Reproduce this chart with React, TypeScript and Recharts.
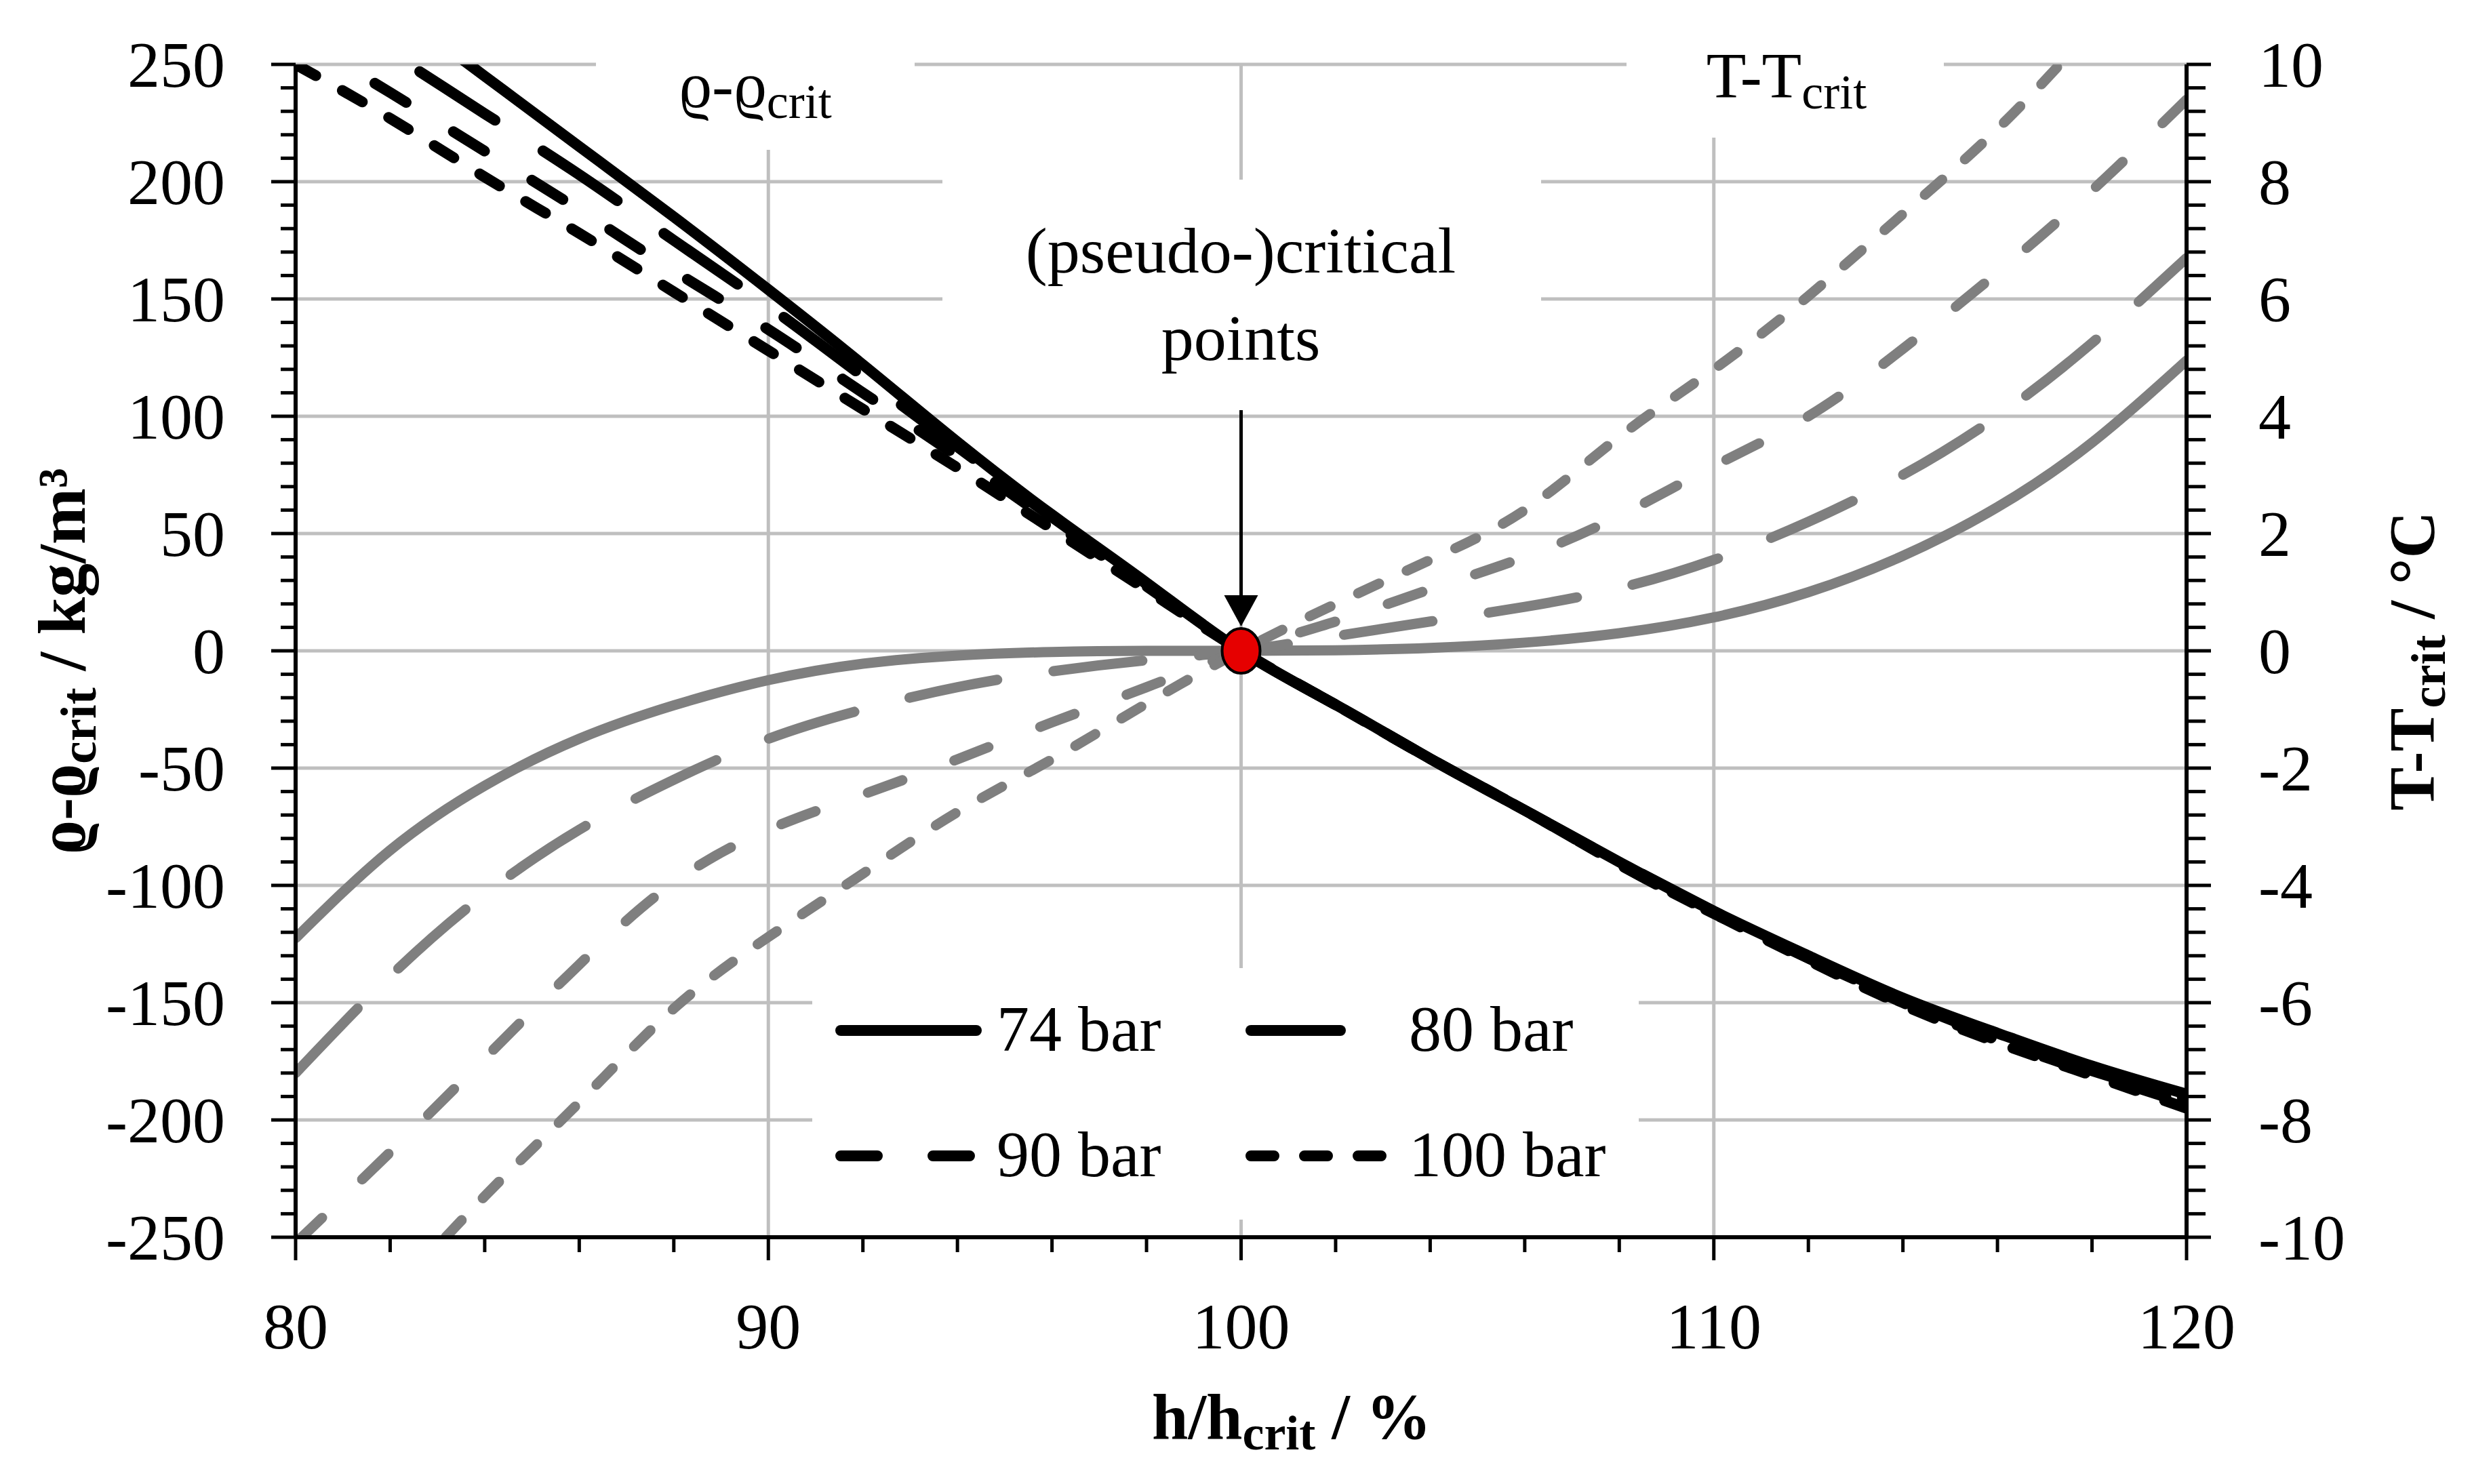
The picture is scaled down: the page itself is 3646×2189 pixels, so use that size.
import React from "react";
import {
    LineChart,
    Line,
    XAxis,
    YAxis,
    CartesianGrid,
    Legend,
    ReferenceDot,
    ReferenceLine,
} from "recharts";

// h/h_crit in %
const enthalpy = [80, 82, 84, 86, 88, 90, 92, 94, 96, 98, 100, 102, 104, 106, 108, 110, 112, 114, 116, 118, 120];

// rho - rho_crit in kg/m3 (left axis)
const rho74 = [305, 275, 245, 215, 185, 154, 122, 89, 58, 29, 0, -23, -46, -68, -90, -111, -130, -148, -163, -177, -189];
const rho80 = [280, 255, 229, 203, 175, 147, 117, 87, 57, 28.5, 0, -23, -46, -68, -90, -111, -131, -149, -165, -179, -191];
const rho90 = [262, 238, 213, 188, 162, 137, 110, 83, 55, 27.5, 0, -23, -46, -68, -91, -112, -131, -150, -166, -180, -193];
const rho100 = [250, 227, 202, 178, 153, 128, 103, 78, 52, 26, 0, -23, -46, -68, -91, -112, -132, -151, -167, -181, -195];

// T - T_crit in degC (right axis)
const t74 = [-4.9, -3.4, -2.3, -1.5, -0.93, -0.5, -0.22, -0.08, -0.02, 0, 0, 0.01, 0.05, 0.14, 0.3, 0.57, 1.0, 1.62, 2.45, 3.55, 4.95];
const t80 = [-7.2, -5.55, -4.15, -3.05, -2.2, -1.5, -1.0, -0.62, -0.35, -0.16, 0, 0.25, 0.5, 0.75, 1.07, 1.55, 2.2, 3.0, 4.0, 5.25, 6.7];
const t90 = [-10.1, -8.55, -6.95, -5.35, -3.95, -3.05, -2.45, -1.85, -1.22, -0.62, 0, 0.5, 1.05, 1.6, 2.3, 3.15, 4.0, 5.15, 6.45, 7.85, 9.4];
const t100 = [-12.6, -11.0, -9.3, -7.7, -6.1, -4.88, -3.8, -2.75, -1.85, -0.9, 0, 0.8, 1.55, 2.4, 3.65, 4.8, 6.05, 7.45, 8.9, 10.6, 12.4];

const pressures = ["74 bar", "80 bar", "90 bar", "100 bar"];

const xMajor = [80, 90, 100, 110, 120];
const rhoMajor = [-250, -200, -150, -100, -50, 0, 50, 100, 150, 200, 250];
const tMajor = [-10, -8, -6, -4, -2, 0, 2, 4, 6, 8, 10];
const rhoGrid = [-200, -150, -100, -50, 0, 50, 100, 150, 200, 250];
const hGrid = [90, 100, 110];

const data = enthalpy.map((h, i) => ({
    h,
    rho74: rho74[i],
    rho80: rho80[i],
    rho90: rho90[i],
    rho100: rho100[i],
    t74: t74[i],
    t80: t80[i],
    t90: t90[i],
    t100: t100[i],
}));

// minor ticks between the major ones
function subdivide(major: number[], parts: number) {
    const out: number[] = [];
    for (let i = 0; i < major.length - 1; i++) {
        for (let k = 0; k < parts; k++) out.push(major[i] + ((major[i + 1] - major[i]) * k) / parts);
    }
    out.push(major[major.length - 1]);
    return out;
}
const xTicks = subdivide(xMajor, 5);
const rhoTicks = subdivide(rhoMajor, 5);
const tTicks = subdivide(tMajor, 5);

const findMajor = (list: number[], v: number) => list.find((m) => Math.abs(m - v) < 1e-6);

const SERIF = "'Liberation Serif', 'Times New Roman', serif";
const FS = 96;
const GREY = "#7f7f7f";
const dashes = [undefined, "132 84", "54 82", "34 45"];

const LeftTick = (props: any) => {
    const { x, y, payload } = props;
    const m = findMajor(rhoMajor, payload.value);
    return (
        <g>
            <line x1={x - (m !== undefined ? 36 : 22)} x2={x} y1={y} y2={y} stroke="#000" strokeWidth={5} />
            {m !== undefined && (
                <text x={x - 104} y={y + 33} textAnchor="end" fontFamily={SERIF} fontSize={FS} fill="#000">
                    {m}
                </text>
            )}
        </g>
    );
};

const RightTick = (props: any) => {
    const { x, y, payload } = props;
    const m = findMajor(tMajor, payload.value);
    return (
        <g>
            <line x1={x} x2={x + (m !== undefined ? 36 : 28)} y1={y} y2={y} stroke="#000" strokeWidth={5} />
            {m !== undefined && (
                <text x={x + 106} y={y + 33} textAnchor="start" fontFamily={SERIF} fontSize={FS} fill="#000">
                    {m}
                </text>
            )}
        </g>
    );
};

const BottomTick = (props: any) => {
    const { x, y, payload } = props;
    const m = findMajor(xMajor, payload.value);
    return (
        <g>
            <line x1={x} x2={x} y1={y} y2={y + (m !== undefined ? 34 : 22)} stroke="#000" strokeWidth={5} />
            {m !== undefined && (
                <text x={x} y={y + 164} textAnchor="middle" fontFamily={SERIF} fontSize={FS} fill="#000">
                    {m}
                </text>
            )}
        </g>
    );
};

const Arrow = (props: any) => {
    const { x1, y1, x2, y2 } = props;
    return (
        <g>
            <line x1={x1} y1={y1} x2={x2} y2={y2 - 40} stroke="#000" strokeWidth={5} />
            <polygon points={`${x2 - 25},${y2 - 46} ${x2 + 25},${y2 - 46} ${x2},${y2}`} fill="#000" />
        </g>
    );
};

const CritDot = (props: any) => (
    <ellipse cx={props.cx} cy={props.cy} rx={28} ry={33} fill="#e60000" stroke="#000" strokeWidth={4} />
);

const renderLegend = () => {
    const rows = [92, 277];
    return (
        <svg width={1219} height={371} style={{ display: "block", background: "#fff" }}>
            {pressures.map((name, i) => {
                const row = rows[Math.floor(i / 2)];
                const col = i % 2;
                const x1 = col === 0 ? 42 : 647;
                const x2 = col === 0 ? 242 : 840;
                const tx = col === 0 ? 272 : 880;
                return (
                    <g key={name}>
                        <line
                            x1={x1}
                            x2={x2}
                            y1={row}
                            y2={row}
                            stroke="#000"
                            strokeWidth={16}
                            strokeLinecap="round"
                            strokeDasharray={dashes[i]}
                        />
                        <text x={tx} y={row + 30} fontFamily={SERIF} fontSize={FS} fill="#000">
                            {name}
                        </text>
                    </g>
                );
            })}
        </svg>
    );
};

const Annotations = () => (
    <g>
        <rect x={879} y={60} width={470} height={161} fill="#fff" />
        <text x={1114} y={158} textAnchor="middle" fontFamily={SERIF} fontSize={FS} fill="#000">
            ϱ-ϱ<tspan fontSize={72} dy={16}>crit</tspan>
        </text>
        <rect x={2399} y={60} width={468} height={143} fill="#fff" />
        <text x={2635} y={144} textAnchor="middle" fontFamily={SERIF} fontSize={FS} fill="#000">
            T-T<tspan fontSize={72} dy={16}>crit</tspan>
        </text>
        <rect x={1390} y={265} width={883} height={340} fill="#fff" />
        <text x={1830} y={402} textAnchor="middle" fontFamily={SERIF} fontSize={FS} fill="#000">
            (pseudo-)critical
        </text>
        <text x={1830} y={531} textAnchor="middle" fontFamily={SERIF} fontSize={FS} fill="#000">
            points
        </text>
        <text
            transform="translate(125,975) rotate(-90)"
            textAnchor="middle"
            fontFamily={SERIF}
            fontSize={100}
            fontWeight="bold"
            fill="#000"
        >
            ϱ-ϱ<tspan fontSize={75} dy={16}>crit</tspan>
            <tspan dy={-16}> / kg/m³</tspan>
        </text>
        <text
            transform="translate(3590,975) rotate(-90)"
            textAnchor="middle"
            fontFamily={SERIF}
            fontSize={FS}
            fontWeight="bold"
            fill="#000"
        >
            T-T<tspan fontSize={72} dy={16}>crit</tspan>
            <tspan dy={-16}> / °C</tspan>
        </text>
        <text x={1905} y={2122} textAnchor="middle" fontFamily={SERIF} fontSize={FS} fontWeight="bold" fill="#000">
            h/h<tspan fontSize={72} dy={16}>crit</tspan>
            <tspan dy={-16}> / %</tspan>
        </text>
    </g>
);

export default function App() {
    return (
        <div style={{ width: 3646, height: 2189, background: "#fff" }}>
            <style>{"body{margin:0;background:#fff}"}</style>
            <LineChart width={3646} height={2189} data={data} margin={{ top: 95, right: 420, bottom: 363, left: 435 }}>
                <CartesianGrid
                    yAxisId="rho"
                    horizontalValues={rhoGrid}
                    verticalValues={hGrid}
                    stroke="#bfbfbf"
                    strokeWidth={5}
                />
                <XAxis
                    dataKey="h"
                    type="number"
                    domain={[80, 120]}
                    ticks={xTicks}
                    interval={0}
                    height={1}
                    tickSize={0}
                    tickMargin={0}
                    tickLine={false}
                    axisLine={{ stroke: "#000", strokeWidth: 6 }}
                    tick={<BottomTick />}
                    allowDataOverflow
                />
                <YAxis
                    yAxisId="rho"
                    type="number"
                    domain={[-250, 250]}
                    ticks={rhoTicks}
                    interval={0}
                    width={1}
                    tickSize={0}
                    tickMargin={0}
                    tickLine={false}
                    axisLine={{ stroke: "#000", strokeWidth: 6 }}
                    tick={<LeftTick />}
                    allowDataOverflow
                />
                <YAxis
                    yAxisId="t"
                    orientation="right"
                    type="number"
                    domain={[-10, 10]}
                    ticks={tTicks}
                    interval={0}
                    width={1}
                    tickSize={0}
                    tickMargin={0}
                    tickLine={false}
                    axisLine={{ stroke: "#000", strokeWidth: 6 }}
                    tick={<RightTick />}
                    allowDataOverflow
                />
                <Annotations />
                {["t74", "t80", "t90", "t100"].map((key, i) => (
                    <Line
                        key={key}
                        yAxisId="t"
                        type="natural"
                        dataKey={key}
                        stroke={GREY}
                        strokeWidth={15}
                        strokeLinecap="round"
                        strokeDasharray={dashes[i]}
                        dot={false}
                        isAnimationActive={false}
                        legendType="none"
                    />
                ))}
                {["rho74", "rho80", "rho90", "rho100"].map((key, i) => (
                    <Line
                        key={key}
                        yAxisId="rho"
                        type="natural"
                        dataKey={key}
                        name={pressures[i]}
                        stroke="#000"
                        strokeWidth={16}
                        strokeLinecap="round"
                        strokeDasharray={dashes[i]}
                        dot={false}
                        isAnimationActive={false}
                    />
                ))}
                <ReferenceLine
                    yAxisId="rho"
                    segment={[
                        { x: 100, y: 102.6 },
                        { x: 100, y: 10.4 },
                    ]}
                    shape={<Arrow />}
                    ifOverflow="visible"
                />
                <ReferenceDot yAxisId="rho" x={100} y={0} r={30} shape={<CritDot />} ifOverflow="visible" />
                <Legend
                    layout="horizontal"
                    verticalAlign="middle"
                    align="center"
                    content={renderLegend}
                    wrapperStyle={{ position: "absolute", left: 1198, top: 1428, width: 1219, height: 371 }}
                />
            </LineChart>
        </div>
    );
}
